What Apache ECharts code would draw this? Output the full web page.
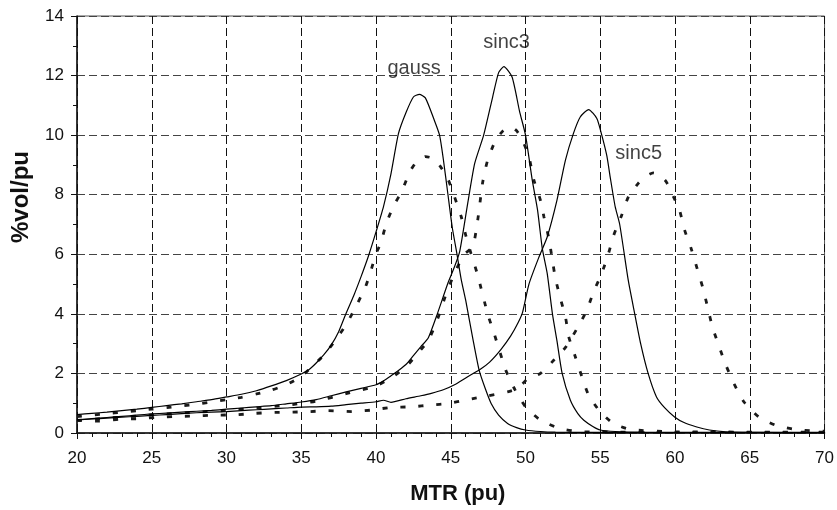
<!DOCTYPE html>
<html>
<head>
<meta charset="utf-8">
<script src="https://cdn.jsdelivr.net/npm/echarts@6/dist/echarts.min.js"></script>
<style>
  html, body { margin: 0; padding: 0; background: #fff; }
  #chart { width: 837px; height: 510px; }
</style>
</head>
<body>
<div id="chart"></div>
<script>
// MTR distributions (%vol/pu) for three kernels: solid = reference, dashed = estimate
const gaussSolid = [
  [20, 0.62], [21, 0.66], [22, 0.70], [23, 0.75], [24, 0.80], [25, 0.86], [26, 0.92],
  [27, 0.98], [28, 1.05], [29, 1.12], [30, 1.21], [31, 1.30], [32, 1.42], [33, 1.58],
  [34, 1.76], [35, 1.98], [35.5, 2.12], [36, 2.35], [36.5, 2.62], [37, 2.95], [37.5, 3.40],
  [38, 4.02], [38.5, 4.60], [39, 5.25], [39.5, 5.95], [40, 6.75], [40.5, 7.60], [41, 8.70],
  [41.5, 10.05], [42, 10.75], [42.5, 11.28], [42.9, 11.37], [43.3, 11.25], [43.9, 10.50],
  [44.25, 10.0], [44.5, 9.20], [44.8, 8.05], [45.1, 6.90], [45.4, 6.05], [45.7, 5.15],
  [46.0, 4.45], [46.5, 3.10], [46.9, 2.10], [47.3, 1.50], [47.7, 0.99], [48.2, 0.60],
  [48.8, 0.32], [49.4, 0.18], [50, 0.10], [51, 0.05], [52, 0.03], [55, 0.02], [60, 0.01], [70, 0.01]
];
const gaussDashed = [
  [20, 0.55], [21, 0.60], [22, 0.65], [23, 0.70], [24, 0.75], [25, 0.80], [26, 0.85],
  [27, 0.91], [28, 0.97], [29, 1.04], [30, 1.12], [31, 1.20], [32, 1.31], [33, 1.44],
  [34, 1.62], [35, 1.90], [35.6, 2.17], [36.5, 2.61], [37.3, 3.12], [38.05, 3.68],
  [38.7, 4.29], [39.3, 4.91], [39.7, 5.52], [40.0, 6.03], [40.3, 6.35], [40.7, 7.05],
  [41.2, 7.65], [41.7, 8.09], [42.26, 8.77], [42.7, 9.10], [43.3, 9.28], [43.8, 9.22],
  [44.3, 8.95], [44.8, 8.54], [45.25, 7.93], [45.7, 7.26], [46.0, 6.64], [46.35, 6.03],
  [46.8, 5.30], [47.46, 4.01], [47.9, 3.34], [48.68, 2.11], [49.3, 1.45], [50, 0.88],
  [51, 0.43], [52.3, 0.15], [53.6, 0.05], [55, 0.03], [60, 0.02], [70, 0.02]
];
const sinc3Solid = [
  [20, 0.44], [21, 0.48], [22, 0.52], [23, 0.56], [24, 0.60], [25, 0.64], [26, 0.67],
  [27, 0.70], [28, 0.73], [29, 0.76], [30, 0.80], [31, 0.84], [32, 0.88], [33, 0.92],
  [34, 0.98], [35, 1.04], [36, 1.12], [37, 1.25], [38, 1.38], [39, 1.50], [40, 1.62],
  [40.5, 1.75], [41, 1.92], [41.5, 2.10], [42, 2.30], [42.5, 2.60], [43, 2.90], [43.5, 3.20],
  [44.1, 4.00], [44.8, 5.02], [45.25, 5.58], [45.6, 6.10], [46.13, 7.70], [46.6, 9.05],
  [47.2, 10.0], [47.8, 11.28], [48.2, 12.10], [48.55, 12.30], [49.1, 11.95], [49.6, 10.80],
  [50, 10.0], [50.45, 8.49], [50.8, 7.50], [51.12, 6.20], [51.45, 5.36], [51.8, 4.00],
  [52.1, 3.10], [52.45, 2.00], [53.0, 1.10], [53.5, 0.65], [53.9, 0.43], [54.5, 0.22],
  [55, 0.10], [56, 0.05], [58, 0.03], [70, 0.02]
];
const sinc3Dashed = [
  [20, 0.42], [22, 0.50], [24, 0.57], [26, 0.64], [28, 0.70], [30, 0.76], [32, 0.84],
  [34, 0.93], [36, 1.07], [38, 1.32], [40, 1.58], [41, 1.85], [42, 2.22], [43, 2.80],
  [43.5, 3.10], [44.1, 3.80], [44.7, 4.68], [45.25, 5.36], [45.9, 6.00], [46.47, 6.25],
  [46.8, 7.14], [47.13, 8.40], [47.46, 9.15], [48.0, 9.83], [48.5, 10.15], [49.0, 10.28],
  [49.4, 10.15], [49.79, 9.83], [50.23, 9.27], [50.56, 8.49], [51.0, 7.81], [51.23, 7.26],
  [51.56, 6.53], [51.78, 5.86], [52.0, 5.19], [52.33, 4.52], [52.67, 3.90], [52.89, 3.23],
  [53.33, 2.56], [53.77, 1.89], [54.22, 1.27], [55.0, 0.71], [55.88, 0.32], [57, 0.12],
  [60, 0.04], [70, 0.03]
];
const sinc5Solid = [
  [20, 0.44], [21, 0.47], [22, 0.50], [23, 0.53], [24, 0.56], [25, 0.59], [26, 0.62],
  [27, 0.65], [28, 0.68], [29, 0.70], [30, 0.72], [31, 0.75], [32, 0.78], [33, 0.81],
  [34, 0.84], [35, 0.87], [36, 0.88], [37, 0.90], [38, 0.95], [39, 1.00], [40, 1.05],
  [40.5, 1.10], [41, 1.03], [42, 1.15], [43, 1.25], [43.7, 1.33], [44.5, 1.45], [45.25, 1.62],
  [46, 1.85], [47, 2.15], [47.6, 2.38], [48.35, 2.80], [49, 3.25], [49.5, 3.70], [49.8, 4.05],
  [50.23, 5.00], [50.9, 5.91], [51.45, 6.58], [52.1, 7.81], [52.67, 9.16], [53.2, 10.05],
  [53.66, 10.61], [54.22, 10.86], [54.77, 10.56], [55.1, 10.0], [55.44, 9.30], [55.66, 8.60],
  [56.0, 7.59], [56.3, 7.00], [56.87, 5.13], [57.3, 4.01], [57.7, 3.00], [58.2, 2.00],
  [58.76, 1.21], [59.3, 0.85], [59.97, 0.54], [60.6, 0.35], [61.4, 0.21], [62.3, 0.10],
  [63.4, 0.04], [65, 0.02], [70, 0.01]
];
const sinc5Dashed = [
  [20, 0.42], [21.5, 0.40], [22.8, 0.46], [24, 0.48], [25.3, 0.52], [26.5, 0.55],
  [27.8, 0.57], [29.2, 0.60], [30.6, 0.61], [31.9, 0.66], [33.2, 0.69], [34.4, 0.70],
  [35.6, 0.72], [36.8, 0.75], [38.4, 0.72], [39.7, 0.77], [41, 0.86], [42.4, 0.88],
  [43.7, 0.94], [44.8, 0.99], [46.1, 1.12], [47.5, 1.25], [48.8, 1.38], [49.5, 1.50],
  [50.1, 1.80], [51, 2.00], [51.9, 2.45], [52.7, 2.89], [53.45, 3.51], [54.1, 4.12],
  [54.55, 4.74], [55.1, 5.36], [55.55, 6.03], [55.9, 6.64], [56.43, 7.31], [56.88, 7.93],
  [57.54, 8.38], [58.0, 8.60], [58.54, 8.73], [59.0, 8.65], [59.42, 8.43], [59.9, 7.93],
  [60.3, 7.48], [60.64, 6.81], [61.08, 6.19], [61.48, 5.52], [61.86, 4.87], [62.2, 4.18],
  [62.5, 3.56], [62.96, 2.89], [63.4, 2.28], [63.96, 1.64], [64.6, 1.05], [65.6, 0.54],
  [66.7, 0.27], [68.0, 0.12], [69.4, 0.07], [70, 0.06]
];
// curve annotations, placed in data coordinates
const curveLabels = [
  { name: 'gauss', value: [42.55, 12.24] },
  { name: 'sinc3', value: [48.73, 13.12] },
  { name: 'sinc5', value: [57.57, 9.39] }
];
const xTicks = { min: 20, max: 70, step: 5 };
const yTicks = { min: 0, max: 14, step: 2 };

const FONT = '"Liberation Sans", Arial, Helvetica, sans-serif';

function solid(data) {
  return {
    type: 'line', data: data, showSymbol: false, symbol: 'none', smooth: 0.2,
    lineStyle: { color: '#000', width: 1.2 }, z: 3, silent: true
  };
}
function dashed(data) {
  return {
    type: 'line', data: data, showSymbol: false, symbol: 'none', smooth: 0.2,
    lineStyle: { color: '#1a1a1a', width: 2.8, type: [5, 13] }, z: 2, silent: true
  };
}

const chart = echarts.init(document.getElementById('chart'), null, { renderer: 'canvas' });
chart.setOption({
  animation: false,
  backgroundColor: '#fff',
  textStyle: { fontFamily: FONT },
  grid: {
    left: 77, right: 8, top: 16, bottom: 77,
    show: true, borderColor: '#555', borderWidth: 1, backgroundColor: 'transparent'
  },
  xAxis: {
    type: 'value', min: xTicks.min, max: xTicks.max, interval: xTicks.step,
    name: 'MTR (pu)', nameLocation: 'middle', nameGap: 50,
    nameTextStyle: { fontFamily: FONT, fontSize: 22, fontWeight: 'bold', color: '#111', padding: [0, 0, 0, 14] },
    axisLine: { show: true, onZero: false, lineStyle: { color: '#111', width: 1.5 } },
    axisTick: { show: true, length: 6, lineStyle: { color: '#111' } },
    minorTick: { show: true, splitNumber: 5, length: 4, lineStyle: { color: '#111' } },
    axisLabel: { fontFamily: FONT, fontSize: 17, color: '#111', margin: 17 },
    splitLine: { show: true, lineStyle: { color: '#111', width: 1, type: [8, 4] } }
  },
  yAxis: {
    type: 'value', min: yTicks.min, max: yTicks.max, interval: yTicks.step,
    name: '%vol/pu', nameLocation: 'middle', nameGap: 44,
    nameTextStyle: { fontFamily: FONT, fontSize: 24, fontWeight: 'bold', color: '#111', padding: [0, 0, 0, 55] },
    axisLine: { show: true, onZero: false, lineStyle: { color: '#111', width: 1.5 } },
    axisTick: { show: true, length: 6, lineStyle: { color: '#111' } },
    minorTick: { show: true, splitNumber: 2, length: 4, lineStyle: { color: '#111' } },
    axisLabel: { fontFamily: FONT, fontSize: 17, color: '#111', margin: 13 },
    splitLine: { show: true, lineStyle: { color: '#444', width: 1, type: [8, 4] } }
  },
  series: [
    solid(gaussSolid), dashed(gaussDashed),
    solid(sinc3Solid), dashed(sinc3Dashed),
    solid(sinc5Solid), dashed(sinc5Dashed),
    {
      type: 'scatter', data: curveLabels, symbolSize: 0, silent: true, z: 5,
      label: {
        show: true, position: 'inside', formatter: '{b}',
        fontFamily: FONT, fontSize: 20, color: '#111'
      }
    }
  ]
});
</script>
</body>
</html>
